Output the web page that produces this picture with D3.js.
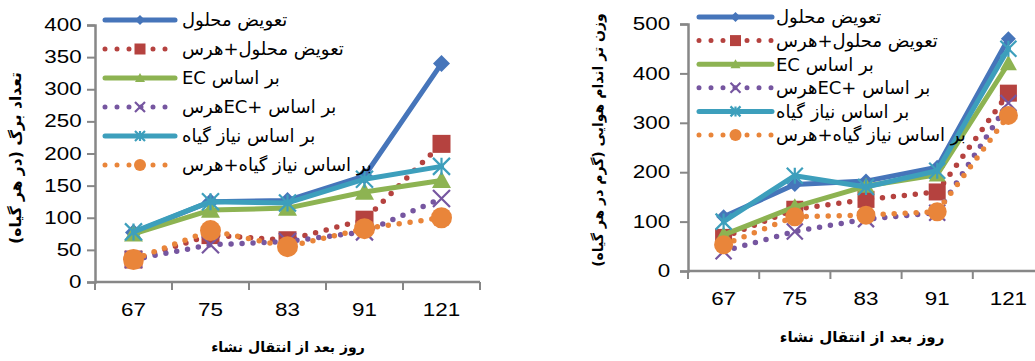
<!DOCTYPE html>
<html>
<head>
<meta charset="utf-8">
<script src="https://cdn.jsdelivr.net/npm/d3@7/dist/d3.min.js"></script>
<style>
  html, body { margin: 0; padding: 0; background: #ffffff; }
  svg { display: block; }
  .tick-label { font-family: "Liberation Sans", Arial, sans-serif; fill: #000; }
  .fa { font-family: "DejaVu Sans", "Noto Sans", sans-serif; fill: #000; }
</style>
</head>
<body>
<svg id="chart" width="1035" height="361"></svg>
<script>
// Days after transplanting (category axis)
const days = ["67", "75", "83", "91", "121"];

// Series names (legend)
const seriesNames = [
  "تعویض محلول",
  "تعویض محلول+هرس",
  "بر اساس EC",
  "بر اساس +ECهرس",
  "بر اساس نیاز گیاه",
  "بر اساس نیاز گیاه+هرس"
];

// Leaf count per plant
const leafSolution      = [77, 125, 127, 165, 340];
const leafSolutionPrune = [35, 73, 65, 97, 215];
const leafEC            = [75, 112, 115, 140, 158];
const leafECPrune       = [35, 58, 63, 78, 130];
const leafNeed          = [78, 125, 123, 160, 180];
const leafNeedPrune     = [35, 80, 55, 83, 100];

// Shoot fresh weight (g per plant)
const weightSolution      = [110, 175, 182, 210, 470];
const weightSolutionPrune = [68, 125, 145, 160, 360];
const weightEC            = [73, 130, 172, 195, 420];
const weightECPrune       = [40, 80, 105, 118, 340];
const weightNeed          = [100, 193, 170, 203, 450];
const weightNeedPrune     = [53, 110, 113, 120, 315];

const leafTicks   = [0, 50, 100, 150, 200, 250, 300, 350, 400];
const weightTicks = [0, 100, 200, 300, 400, 500];

const leafTitle   = "تعداد برگ (در هر گیاه)";
const weightTitle = "وزن تر اندام هوایی (گرم در هر گیاه)";
const xTitle      = "روز بعد از انتقال نشاء";

const colors  = ["#4675BA", "#B5423F", "#8DB352", "#7656A0", "#3D9FBC", "#E9853A"];
const dotted  = [false, true, false, true, false, true];
const shapes  = ["diamond", "square", "triangle", "x", "asterisk", "circle"];

// horizontal stretch applied to numeric labels
const numStretch = 1.28;

const svg = d3.select("#chart");

function drawMarker(g, shape, cx, cy, s, color) {
  const h = s / 2;
  if (shape === "diamond") {
    g.append("path").attr("d", `M${cx},${cy - h}L${cx + h},${cy}L${cx},${cy + h}L${cx - h},${cy}Z`).attr("fill", color);
  } else if (shape === "square") {
    g.append("rect").attr("x", cx - h).attr("y", cy - h).attr("width", s).attr("height", s).attr("fill", color);
  } else if (shape === "triangle") {
    g.append("path").attr("d", `M${cx},${cy - h}L${cx + h},${cy + h * 0.8}L${cx - h},${cy + h * 0.8}Z`).attr("fill", color);
  } else if (shape === "circle") {
    g.append("circle").attr("cx", cx).attr("cy", cy).attr("r", h).attr("fill", color);
  } else if (shape === "x") {
    g.append("path").attr("d", `M${cx - h},${cy - h}L${cx + h},${cy + h}M${cx + h},${cy - h}L${cx - h},${cy + h}`)
      .attr("stroke", color).attr("stroke-width", 2.2).attr("fill", "none");
  } else if (shape === "asterisk") {
    g.append("path").attr("d", `M${cx - h},${cy - h}L${cx + h},${cy + h}M${cx + h},${cy - h}L${cx - h},${cy + h}M${cx},${cy - h}L${cx},${cy + h}`)
      .attr("stroke", color).attr("stroke-width", 2.2).attr("fill", "none");
  }
}

function drawChart(cfg) {
  const g = svg.append("g");
  const x = d3.scaleBand().domain(days).range([cfg.x0, cfg.x1]);
  const y = d3.scaleLinear().domain([0, cfg.yMax]).range([cfg.y0, cfg.y1]);
  const axisColor = "#878787";

  // y axis
  const yAxis = g.append("g").attr("transform", `translate(${cfg.x0},0)`)
    .call(d3.axisLeft(y).tickValues(cfg.ticks).tickSize(8).tickPadding(cfg.yPad));
  yAxis.select(".domain").attr("stroke", axisColor).attr("stroke-width", 2.5);
  yAxis.selectAll(".tick line").attr("stroke", axisColor).attr("stroke-width", 2);
  yAxis.selectAll(".tick text").attr("class", "tick-label").style("font-size", cfg.tickFont + "px")
    .attr("fill", "#000").attr("transform", `scale(${numStretch},1)`);

  // x axis with ticks between categories
  const xAxis = g.append("g").attr("transform", `translate(0,${cfg.y0})`)
    .call(d3.axisBottom(x).tickSize(0).tickPadding(cfg.xPad));
  xAxis.select(".domain").remove();
  xAxis.append("line").attr("x1", cfg.x0).attr("x2", cfg.x1).attr("stroke", axisColor).attr("stroke-width", 2.5);
  xAxis.selectAll(".tick text").attr("class", "tick-label").style("font-size", cfg.tickFont + "px")
    .attr("fill", "#000").attr("transform", `scale(${numStretch},1)`);
  days.forEach(d => {
    const tx = x(d);
    xAxis.append("line").attr("x1", tx).attr("x2", tx).attr("y1", 0).attr("y2", 8).attr("stroke", axisColor).attr("stroke-width", 2);
  });
  xAxis.append("line").attr("x1", cfg.x1).attr("x2", cfg.x1).attr("y1", 0).attr("y2", 8).attr("stroke", axisColor).attr("stroke-width", 2);

  const cx = d => x(d) + x.bandwidth() / 2;
  const line = d3.line().x((v, i) => cx(days[i])).y(v => y(v));

  // series lines and markers
  cfg.series.forEach((vals, si) => {
    const sg = g.append("g");
    const p = sg.append("path").attr("d", line(vals)).attr("fill", "none").attr("stroke", colors[si])
      .attr("stroke-linejoin", "round").attr("stroke-linecap", "round");
    if (dotted[si]) p.attr("stroke-width", 5.5).attr("stroke-dasharray", "0 11");
    else p.attr("stroke-width", 5);
    vals.forEach((v, i) => drawMarker(sg, shapes[si], cx(days[i]), y(v), cfg.markerSize[si], colors[si]));
  });

  // legend
  const lg = g.append("g");
  seriesNames.forEach((name, si) => {
    const ly = cfg.legY + si * cfg.legStep;
    const l = lg.append("line").attr("x1", cfg.legX0).attr("x2", cfg.legX1).attr("y1", ly).attr("y2", ly)
      .attr("stroke", colors[si]).attr("stroke-linecap", "round");
    if (dotted[si]) l.attr("stroke-width", 5).attr("stroke-dasharray", "0 12");
    else l.attr("stroke-width", 5);
    drawMarker(lg, shapes[si], (cfg.legX0 + cfg.legX1) / 2, ly, [10, 11, 10, 10, 10, 12][si], colors[si]);
    const t = lg.append("text").attr("class", "fa").attr("x", 0).attr("y", cfg.legFont * 0.35)
      .attr("direction", "rtl").style("font-size", cfg.legFont + "px").text(name);
    const bb = t.node().getBBox();
    t.attr("x", -bb.x).attr("transform", `translate(${cfg.legTextX},${ly})`);
  });

  // axis titles
  g.append("text").attr("class", "fa").attr("direction", "rtl").attr("text-anchor", "middle")
    .attr("transform", `translate(${cfg.yTitleX},${cfg.yTitleY}) rotate(-90)`)
    .style("font-size", cfg.yTitleFont + "px").style("font-weight", "bold").text(cfg.yTitle);
  g.append("text").attr("class", "fa").attr("direction", "rtl").attr("text-anchor", "middle")
    .attr("x", cfg.xTitleX).attr("y", cfg.xTitleY)
    .style("font-size", cfg.xTitleFont + "px").style("font-weight", "bold").text(xTitle);
}

drawChart({
  x0: 95, x1: 480, y0: 282, y1: 25, yMax: 400, ticks: leafTicks,
  yPad: 2.5, xPad: 22, tickFont: 17.5,
  series: [leafSolution, leafSolutionPrune, leafEC, leafECPrune, leafNeed, leafNeedPrune],
  markerSize: [17, 18, 19, 17, 17, 21],
  legX0: 105, legX1: 175, legY: 20, legStep: 29, legTextX: 182, legFont: 18,
  yTitle: leafTitle, yTitleX: 21, yTitleY: 158, yTitleFont: 15.5,
  xTitleX: 288, xTitleY: 352, xTitleFont: 14
});

drawChart({
  x0: 688, x1: 1044, y0: 271, y1: 24, yMax: 500, ticks: weightTicks,
  yPad: 6, xPad: 22, tickFont: 17.5,
  series: [weightSolution, weightSolutionPrune, weightEC, weightECPrune, weightNeed, weightNeedPrune],
  markerSize: [15, 17, 17, 16, 16, 19],
  legX0: 699, legX1: 772, legY: 17, legStep: 23.6, legTextX: 776, legFont: 18,
  yTitle: weightTitle, yTitleX: 603, yTitleY: 140, yTitleFont: 14,
  xTitleX: 862, xTitleY: 342, xTitleFont: 15
});
</script>
</body>
</html>
